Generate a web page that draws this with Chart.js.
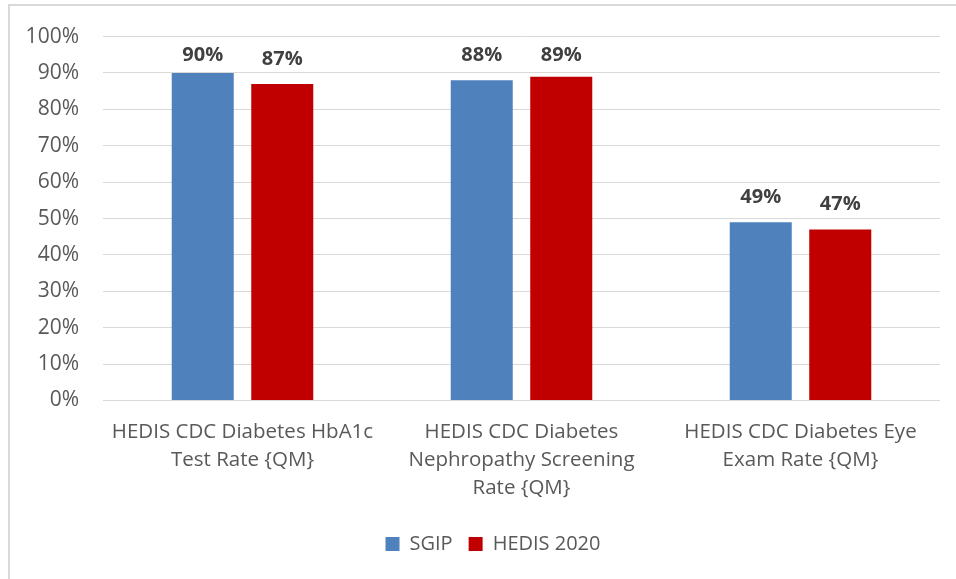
<!DOCTYPE html>
<html>
<head>
<meta charset="utf-8">
<script src="https://cdn.jsdelivr.net/npm/chart.js@4.4.0/dist/chart.umd.min.js"></script>
<style>
  body { margin: 0; background: #fff; overflow: hidden; }
  #wrap { position: relative; width: 956px; height: 579px; }
  #frame { position: absolute; left: 8px; top: 4px; width: 960px; height: 600px;
           border-left: 2px solid #d9d9d9; border-top: 2px solid #d9d9d9; pointer-events: none; }
</style>
</head>
<body>
<div id="wrap">
  <canvas id="chart" width="956" height="579"></canvas>
  <div id="frame"></div>
</div>
<script>
const categories = [
    ['HEDIS CDC Diabetes HbA1c', 'Test Rate {QM}'],
    ['HEDIS CDC Diabetes', 'Nephropathy Screening', 'Rate {QM}'],
    ['HEDIS CDC Diabetes Eye', 'Exam Rate {QM}']
];
const sgip = [90, 88, 49];
const hedis2020 = [87, 89, 47];
const yTicks = [0, 10, 20, 30, 40, 50, 60, 70, 80, 90, 100];

const FONT = "'Open Sans', sans-serif";

// bold value labels above each bar, kept below the top of the plot
const valueLabels = {
    id: 'valueLabels',
    afterDatasetsDraw(chart) {
        const ctx = chart.ctx;
        const top = chart.chartArea.top;
        ctx.save();
        ctx.font = `bold 20px ${FONT}`;
        ctx.fillStyle = '#404040';
        ctx.textAlign = 'center';
        ctx.textBaseline = 'middle';
        chart.data.datasets.forEach((ds, i) => {
            chart.getDatasetMeta(i).data.forEach((bar, j) => {
                const y = Math.max(bar.y - 25, top + 19);
                ctx.fillText(ds.data[j] + '%', bar.x, y);
            });
        });
        ctx.restore();
    }
};

// legend sits a bit right of the canvas centre, like the original
const legendShift = {
    id: 'legendShift',
    afterLayout(chart) {
        chart.legend.left += 46;
    }
};

new Chart(document.getElementById('chart'), {
    type: 'bar',
    data: {
        labels: categories,
        datasets: [
            { label: 'SGIP', data: sgip, backgroundColor: '#4f81bd' },
            { label: 'HEDIS 2020', data: hedis2020, backgroundColor: '#c00000' }
        ]
    },
    options: {
        responsive: false,
        animation: false,
        categoryPercentage: 0.57,
        barPercentage: 0.78,
        layout: { padding: { top: 35, left: 0, right: 16, bottom: 15 } },
        plugins: {
            legend: {
                position: 'bottom',
                labels: {
                    boxWidth: 14,
                    boxHeight: 14,
                    padding: 16,
                    color: '#595959',
                    font: { family: FONT, size: 20 }
                }
            },
            tooltip: { enabled: false }
        },
        scales: {
            y: {
                min: 0,
                max: 100,
                afterBuildTicks: s => { s.ticks = yTicks.map(v => ({ value: v })); },
                afterFit: s => { s.width = 103; },
                grid: { color: '#d9d9d9', drawTicks: false },
                border: { display: false },
                ticks: {
                    padding: 24,
                    color: '#595959',
                    font: { family: FONT, size: 21 },
                    callback: v => v + '%'
                }
            },
            x: {
                afterFit: s => { s.height = 117.5; },
                grid: { display: false, drawTicks: false },
                border: { display: false },
                ticks: {
                    padding: 18,
                    maxRotation: 0,
                    autoSkip: false,
                    color: '#595959',
                    font: { family: FONT, size: 20.5, lineHeight: '28px' }
                }
            }
        }
    },
    plugins: [valueLabels, legendShift]
});
</script>
</body>
</html>
